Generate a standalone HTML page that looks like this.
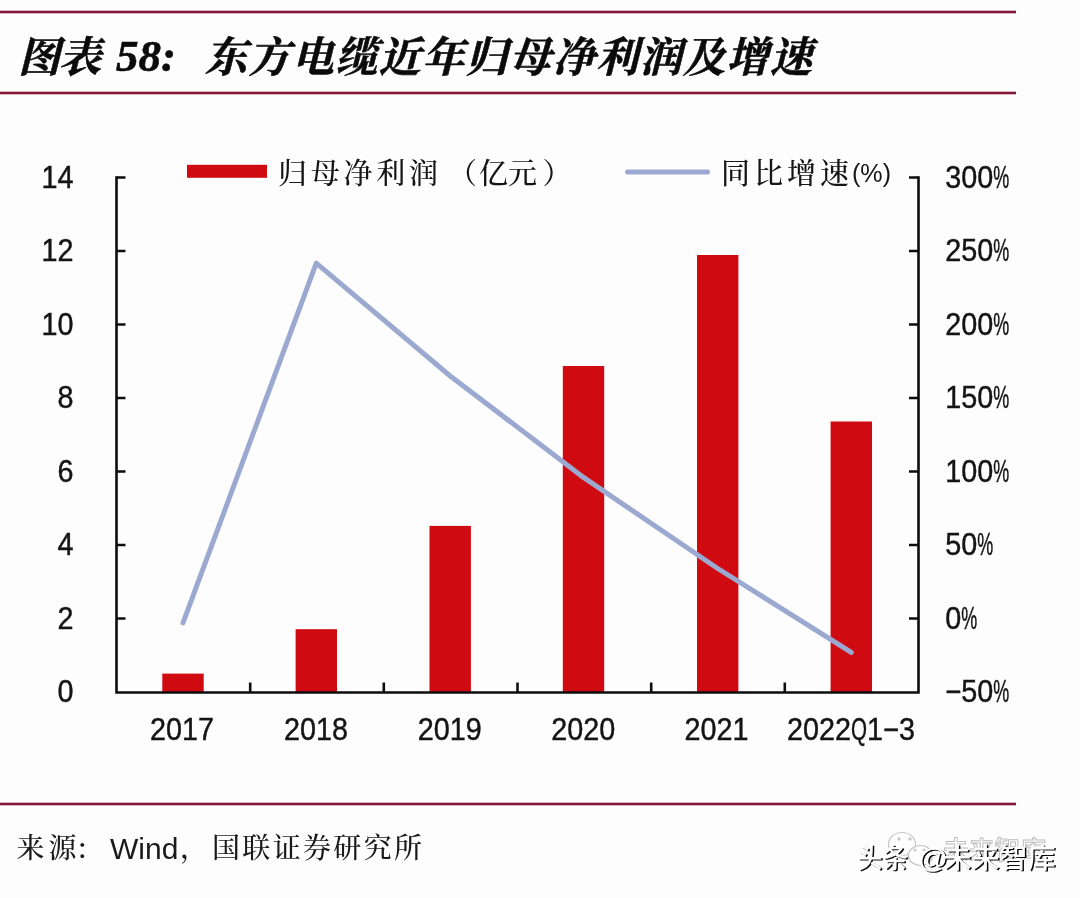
<!DOCTYPE html>
<html lang="zh-CN">
<head>
<meta charset="utf-8">
<title>图表 58: 东方电缆近年归母净利润及增速</title>
<style>
html,body{margin:0;padding:0;background:#fdfdfe;}
body{width:1080px;height:898px;overflow:hidden;position:relative;font-family:"Liberation Sans","Noto Sans CJK SC",sans-serif;}
svg{position:absolute;left:0;top:0;display:block}
.kai{font-family:"Liberation Serif","Noto Serif CJK SC",serif;}
.ttl{font-family:"Liberation Serif","Noto Serif CJK SC",serif;font-weight:700;font-style:italic;font-size:42px;fill:#0b0b0b;stroke:#0b0b0b;stroke-width:0.6px}
.ax{font-family:"Liberation Sans",sans-serif;font-size:31px;fill:#141414;stroke:#141414;stroke-width:0.45px}
.lg{font-family:"Liberation Serif","Noto Serif CJK SC",serif;font-size:29px;fill:#151515;font-weight:500}
.src{font-size:28px;fill:#1a1a1a;font-weight:500}
</style>
</head>
<body>
<svg width="1080" height="898" viewBox="0 0 1080 898">
<rect x="0" y="0" width="1080" height="898" fill="#fdfdfe"/>
<rect x="0" y="10.7" width="1016" height="2.6" fill="#851638"/>
<rect x="0" y="91.7" width="1016" height="2.6" fill="#851638"/>
<rect x="0" y="802.7" width="1016" height="2.6" fill="#851638"/>
<text class="ttl" x="18" y="71.5" textLength="83" lengthAdjust="spacing">图表</text>
<text class="ttl" x="116" y="71" style="font-size:45px">58:</text>
<text class="ttl" x="205" y="71.5" textLength="607" lengthAdjust="spacing">东方电缆近年归母净利润及增速</text>
<rect x="187" y="164.8" width="80" height="13" fill="#cf0a10"/>
<text class="lg" x="278" y="184" textLength="160" lengthAdjust="spacing">归母净利润</text>
<text class="lg" x="448" y="184">（</text>
<text class="lg" x="479" y="184" textLength="58" lengthAdjust="spacing">亿元</text>
<text class="lg" x="542.5" y="184">）</text>
<line x1="627.5" y1="172" x2="707.5" y2="172" stroke="#9ba9d1" stroke-width="5" stroke-linecap="round"/>
<text class="lg" x="721" y="184" textLength="128" lengthAdjust="spacing">同比增速</text>
<text class="lg" x="852" y="182" textLength="39" lengthAdjust="spacingAndGlyphs" style="font-family:'Liberation Sans',sans-serif;font-size:26px">(%)</text>
<rect x="162.3" y="673.6" width="41.4" height="18.4" fill="#cf0a10"/>
<rect x="295.6" y="629.2" width="41.4" height="62.8" fill="#cf0a10"/>
<rect x="429.5" y="525.9" width="41.4" height="166.1" fill="#cf0a10"/>
<rect x="562.8" y="366.0" width="41.4" height="326.0" fill="#cf0a10"/>
<rect x="697.0" y="255.0" width="41.4" height="437.0" fill="#cf0a10"/>
<rect x="830.6" y="421.5" width="41.4" height="270.5" fill="#cf0a10"/>
<g stroke="#0d0d0d" stroke-width="2.6" fill="none" stroke-linecap="butt">
<path d="M116.5 176.2 V692.5 H918.5 V176.2"/>
<path d="M116.5 618.5 h9 M918.5 618.5 h-9.5"/>
<path d="M116.5 545.0 h9 M918.5 545.0 h-9.5"/>
<path d="M116.5 471.5 h9 M918.5 471.5 h-9.5"/>
<path d="M116.5 398.0 h9 M918.5 398.0 h-9.5"/>
<path d="M116.5 324.5 h9 M918.5 324.5 h-9.5"/>
<path d="M116.5 251.0 h9 M918.5 251.0 h-9.5"/>
<path d="M116.5 177.5 h9 M918.5 177.5 h-9.5"/>
<path d="M250.2 692.0 v-9.5"/>
<path d="M383.8 692.0 v-9.5"/>
<path d="M517.5 692.0 v-9.5"/>
<path d="M651.2 692.0 v-9.5"/>
<path d="M784.8 692.0 v-9.5"/>
</g>
<polyline points="183.0,622.9 316.3,263.2 450.2,376.0 583.5,477.4 717.7,568.5 851.3,652.3" fill="none" stroke="#9ba9d1" stroke-width="5" stroke-linejoin="round" stroke-linecap="round"/>
<text class="ax" x="57.5" y="702.4"><tspan textLength="16.0" lengthAdjust="spacingAndGlyphs">0</tspan></text>
<text class="ax" x="57.5" y="628.9"><tspan textLength="16.0" lengthAdjust="spacingAndGlyphs">2</tspan></text>
<text class="ax" x="57.5" y="555.4"><tspan textLength="16.0" lengthAdjust="spacingAndGlyphs">4</tspan></text>
<text class="ax" x="57.5" y="481.9"><tspan textLength="16.0" lengthAdjust="spacingAndGlyphs">6</tspan></text>
<text class="ax" x="57.5" y="408.4"><tspan textLength="16.0" lengthAdjust="spacingAndGlyphs">8</tspan></text>
<text class="ax" x="41.5" y="334.9"><tspan textLength="32.0" lengthAdjust="spacingAndGlyphs">10</tspan></text>
<text class="ax" x="41.5" y="261.4"><tspan textLength="32.0" lengthAdjust="spacingAndGlyphs">12</tspan></text>
<text class="ax" x="41.5" y="187.9"><tspan textLength="32.0" lengthAdjust="spacingAndGlyphs">14</tspan></text>
<text class="ax" x="945.2" y="702.4"><tspan textLength="16.0" lengthAdjust="spacingAndGlyphs">−</tspan><tspan textLength="32.0" lengthAdjust="spacingAndGlyphs">50</tspan><tspan textLength="16.0" lengthAdjust="spacingAndGlyphs">%</tspan></text>
<text class="ax" x="945.2" y="628.9"><tspan textLength="16.0" lengthAdjust="spacingAndGlyphs">0</tspan><tspan textLength="16.0" lengthAdjust="spacingAndGlyphs">%</tspan></text>
<text class="ax" x="945.2" y="555.4"><tspan textLength="32.0" lengthAdjust="spacingAndGlyphs">50</tspan><tspan textLength="16.0" lengthAdjust="spacingAndGlyphs">%</tspan></text>
<text class="ax" x="945.2" y="481.9"><tspan textLength="48.0" lengthAdjust="spacingAndGlyphs">100</tspan><tspan textLength="16.0" lengthAdjust="spacingAndGlyphs">%</tspan></text>
<text class="ax" x="945.2" y="408.4"><tspan textLength="48.0" lengthAdjust="spacingAndGlyphs">150</tspan><tspan textLength="16.0" lengthAdjust="spacingAndGlyphs">%</tspan></text>
<text class="ax" x="945.2" y="334.9"><tspan textLength="48.0" lengthAdjust="spacingAndGlyphs">200</tspan><tspan textLength="16.0" lengthAdjust="spacingAndGlyphs">%</tspan></text>
<text class="ax" x="945.2" y="261.4"><tspan textLength="48.0" lengthAdjust="spacingAndGlyphs">250</tspan><tspan textLength="16.0" lengthAdjust="spacingAndGlyphs">%</tspan></text>
<text class="ax" x="945.2" y="187.9"><tspan textLength="48.0" lengthAdjust="spacingAndGlyphs">300</tspan><tspan textLength="16.0" lengthAdjust="spacingAndGlyphs">%</tspan></text>
<text class="ax" x="150.0" y="739.8"><tspan textLength="64.0" lengthAdjust="spacingAndGlyphs">2017</tspan></text>
<text class="ax" x="284.0" y="739.8"><tspan textLength="64.0" lengthAdjust="spacingAndGlyphs">2018</tspan></text>
<text class="ax" x="417.7" y="739.8"><tspan textLength="64.0" lengthAdjust="spacingAndGlyphs">2019</tspan></text>
<text class="ax" x="551.3" y="739.8"><tspan textLength="64.0" lengthAdjust="spacingAndGlyphs">2020</tspan></text>
<text class="ax" x="684.5" y="739.8"><tspan textLength="64.0" lengthAdjust="spacingAndGlyphs">2021</tspan></text>
<text class="ax" x="787.0" y="739.8"><tspan textLength="64.0" lengthAdjust="spacingAndGlyphs">2022</tspan><tspan textLength="16.0" lengthAdjust="spacingAndGlyphs">Q</tspan><tspan textLength="16.0" lengthAdjust="spacingAndGlyphs">1</tspan><tspan textLength="16.0" lengthAdjust="spacingAndGlyphs">−</tspan><tspan textLength="16.0" lengthAdjust="spacingAndGlyphs">3</tspan></text>
<text class="src kai" x="16.5" y="858"><tspan textLength="60" lengthAdjust="spacing">来源</tspan><tspan x="75.5" dy="1">：</tspan></text>
<text class="src" x="110" y="858.5" style="font-family:'Liberation Sans',sans-serif;font-size:30px">Wind</text>
<text class="src kai" x="180" y="858">，</text>
<text class="src kai" x="212" y="858" textLength="210" lengthAdjust="spacing">国联证券研究所</text>
<g font-family="'Liberation Sans','Noto Sans CJK SC',sans-serif" font-weight="500">
<g fill="#fff" stroke="#c4c4c4" stroke-width="1.2">
<ellipse cx="902" cy="844" rx="13.5" ry="11.5"/>
<ellipse cx="920.5" cy="855.5" rx="12" ry="10"/>
</g>
<g fill="#c8c8c8"><circle cx="899" cy="839" r="1.7"/><circle cx="910" cy="839" r="1.7"/><circle cx="915" cy="850" r="1.5"/><circle cx="924" cy="850" r="1.5"/></g>
<text x="943" y="858.5" font-size="25.5" fill="#fff" stroke="#bdbdbd" stroke-width="1" textLength="103" lengthAdjust="spacingAndGlyphs">未来智库</text>
<text font-size="27.5" fill="#0a0a0a"><tspan x="858.6" y="869.1" textLength="51" lengthAdjust="spacingAndGlyphs">头条</tspan><tspan x="919.6" textLength="30" lengthAdjust="spacingAndGlyphs">@</tspan><tspan x="945.1" textLength="112" lengthAdjust="spacingAndGlyphs">未来智库</tspan></text>
<text font-size="27.5" fill="#fff"><tspan x="857.0" y="867.5" textLength="51" lengthAdjust="spacingAndGlyphs">头条</tspan><tspan x="918.0" textLength="30" lengthAdjust="spacingAndGlyphs">@</tspan><tspan x="943.5" textLength="112" lengthAdjust="spacingAndGlyphs">未来智库</tspan></text>
</g>
</svg>
</body>
</html>
